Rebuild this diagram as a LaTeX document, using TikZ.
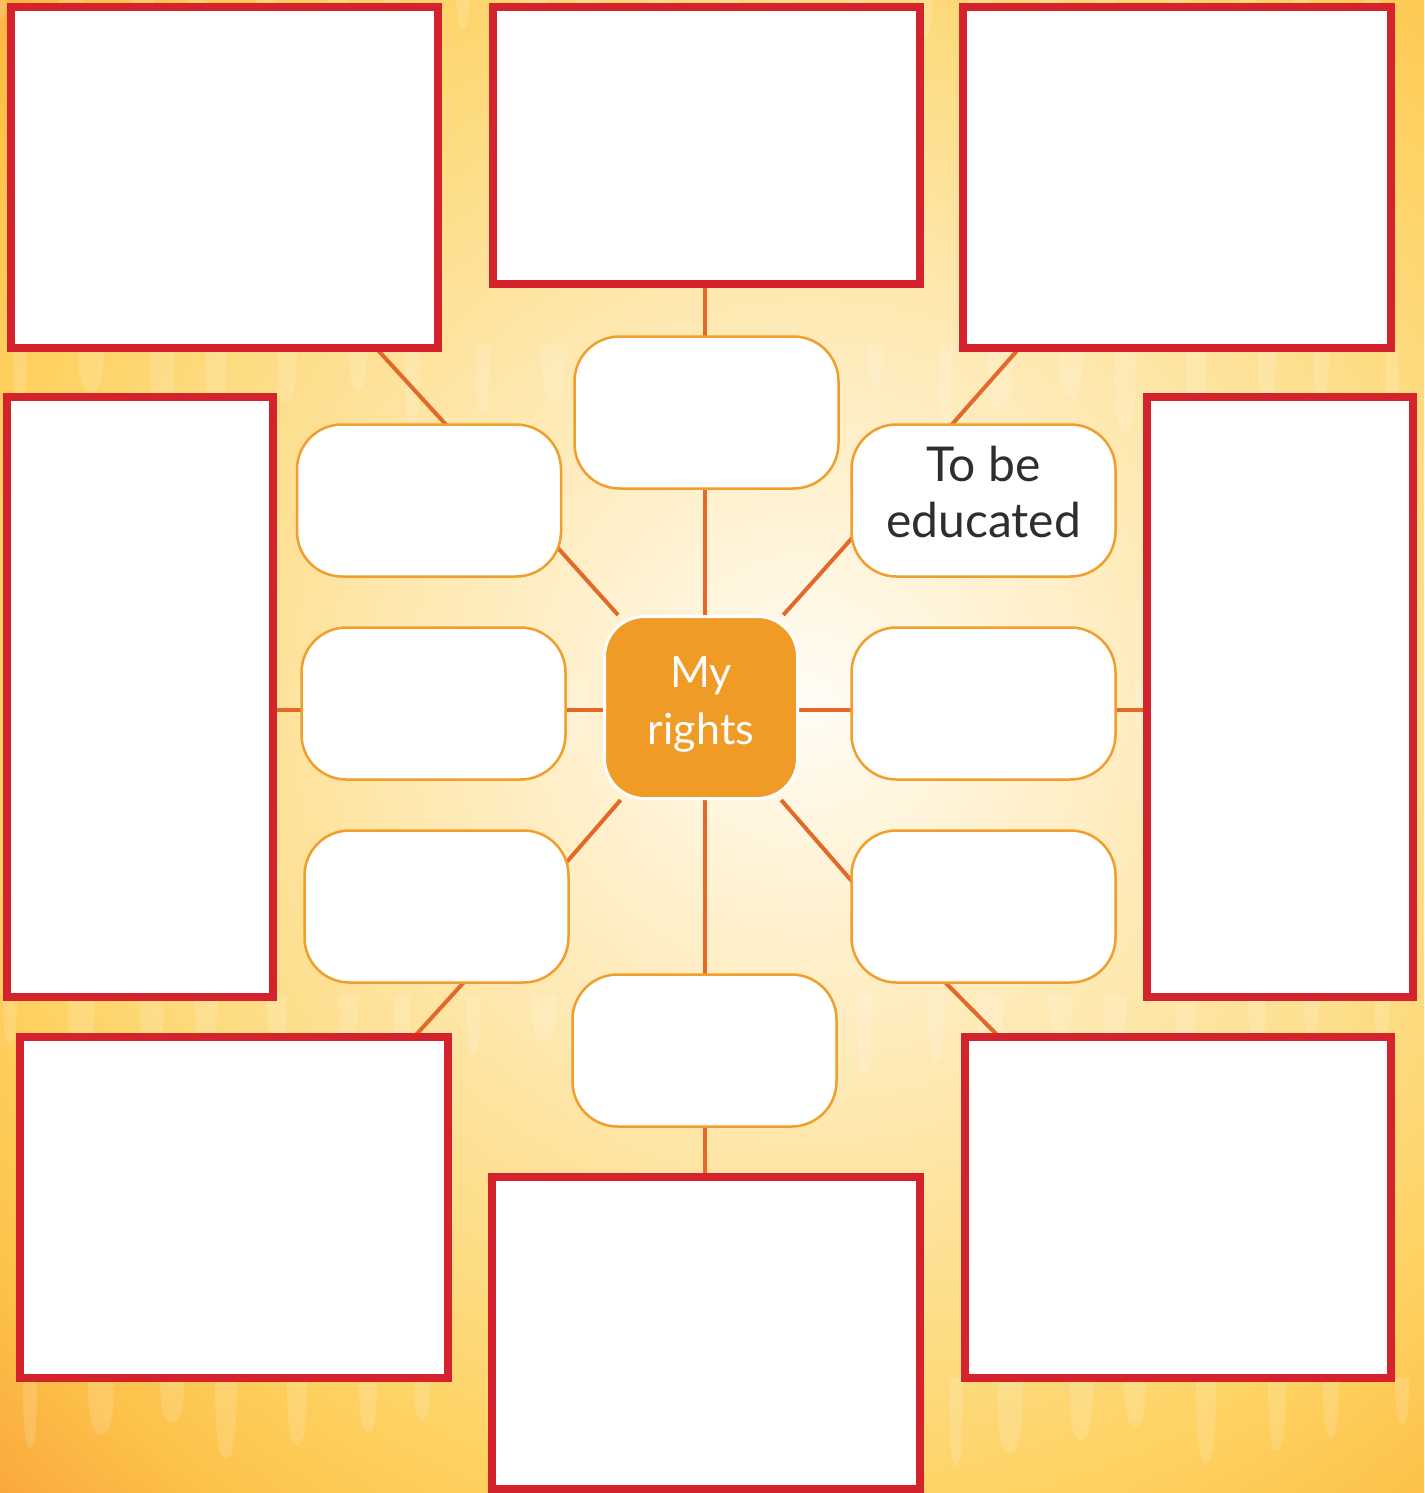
\documentclass[tikz,border=0pt]{standalone}
\usepackage{fontspec}
\setmainfont{Lato}
\usetikzlibrary{calc}
\definecolor{redc}{HTML}{D4232C}
\definecolor{orangeb}{HTML}{F09E2C}
\definecolor{connc}{HTML}{E3692A}
\definecolor{centerc}{HTML}{EF9B25}
\definecolor{textc}{HTML}{2E2E2E}
\definecolor{bgA}{HTML}{FFFCF4}
\definecolor{bgB}{HTML}{FFF3D6}
\definecolor{bgC}{HTML}{FEE7AC}
\definecolor{bgD}{HTML}{FDDB80}
\definecolor{bgE}{HTML}{FED262}
\definecolor{bgF}{HTML}{FDC24A}
\definecolor{bgG}{HTML}{F9A63A}
\pgfdeclarelayer{back}
\pgfdeclarelayer{conn}
\pgfsetlayers{back,conn,main}
\pgfdeclareradialshading{bgshade}{\pgfpoint{0bp}{0bp}}{color(0bp)=(bgA); color(4bp)=(bgB); color(9.5bp)=(bgC); color(14.5bp)=(bgD); color(18bp)=(bgE); color(21.5bp)=(bgF); color(25bp)=(bgG); color(50bp)=(bgG)}
\begin{document}
\begin{tikzpicture}[x=1pt,y=-1pt,
  redb/.style={draw=redc, line width=8pt, fill=white, inner sep=0pt},
  rbox/.style={draw=orangeb, line width=2.5pt, fill=white, rounded corners=45pt,
    minimum width=264pt, minimum height=152pt, inner sep=0pt, align=center,
    text=textc, font=\fontsize{48}{56}\selectfont},
  cbox/.style={draw=white, line width=3pt, fill=centerc, rounded corners=40pt,
    minimum width=193pt, minimum height=182pt, inner sep=0pt, align=center,
    text=white, font=\fontsize{43}{57}\selectfont},
  conn/.style={draw=connc, line width=4pt},
  drip/.style={fill=white, fill opacity=0.15}]
\useasboundingbox (0,0) rectangle (1424,1493);
\begin{pgfonlayer}{back}
  \begin{scope}
    \clip (0,0) rectangle (1424,1493);
    \shade[shading=bgshade] (810,700) circle (1150);
    \foreach \yy/\off in {-20/0, 345/20, 680/40, 995/10, 1378/30} {
      \foreach \i in {0,...,22} {
        \pgfmathsetmacro{\xx}{\off + \i*65 + mod(\i*23,17)}
        \pgfmathsetmacro{\ll}{40 + mod(\i*37+\off,50)}
        \pgfmathsetmacro{\ww}{7 + mod(\i*13,7)}
        \fill[drip] (\xx-\ww,\yy) .. controls (\xx-\ww,\yy+0.6*\ll) and (\xx-0.8*\ww,\yy+\ll) .. (\xx,\yy+\ll)
          .. controls (\xx+0.8*\ww,\yy+\ll) and (\xx+\ww,\yy+0.6*\ll) .. (\xx+\ww,\yy) -- cycle;
      }
    }
  \end{scope}
\end{pgfonlayer}
% red boxes
\node[redb, minimum width=427pt, minimum height=341pt] (TL) at (224.5,177.5) {};
\node[redb, minimum width=427pt, minimum height=277pt] (TM) at (706.5,145.5) {};
\node[redb, minimum width=428pt, minimum height=341pt] (TR) at (1177,177.5) {};
\node[redb, minimum width=266pt, minimum height=600pt] (L) at (140,697) {};
\node[redb, minimum width=266pt, minimum height=600pt] (R) at (1280,697) {};
\node[redb, minimum width=428pt, minimum height=341pt] (BL) at (234,1207.5) {};
\node[redb, minimum width=428pt, minimum height=312pt] (BM) at (706,1333) {};
\node[redb, minimum width=426pt, minimum height=341pt] (BR) at (1178,1207.5) {};
% rounded boxes
\node[rbox] (tc) at (706.5,412.5) {};
\node[rbox] (ul) at (429,500.5) {};
\node[rbox] (ur) at (983.5,500.5) {To be\\educated\rule[-17pt]{0pt}{17pt}};
\node[rbox] (ml) at (433.5,703.5) {};
\node[rbox] (mr) at (983.5,703.5) {};
\node[rbox] (ll) at (436.5,906.5) {};
\node[rbox] (lr) at (983.5,906.5) {};
\node[rbox] (bc) at (704.5,1050.5) {};
% centre
\node[cbox] (cen) at (701,707.5) {My\\rights\rule[-13pt]{0pt}{13pt}};
% connector helper coordinates
\coordinate (hl) at (0,710);
\coordinate (vl) at (705,0);
\coordinate (dUL) at (540,528);
\coordinate (dUR) at (870,518);
\coordinate (dLL) at (545,887);
\coordinate (dLR) at (870,902);
\coordinate (oUL1) at (460,440);
\coordinate (oUL2) at (365,336);
\coordinate (oUR1) at (940,438);
\coordinate (oUR2) at (1030,336);
\coordinate (oLL1) at (475,970);
\coordinate (oLL2) at (405,1047);
\coordinate (oLR1) at (935,972);
\coordinate (oLR2) at (1008,1046);
\begin{pgfonlayer}{conn}
  \draw[conn] (vl |- TM) -- (vl |- tc);
  \draw[conn] (vl |- tc) -- (vl |- cen);
  \draw[conn] (vl |- cen) -- (vl |- bc);
  \draw[conn] (vl |- bc) -- (vl |- BM);
  \draw[conn] (cen |- hl) -- (ml |- hl);
  \draw[conn] (ml |- hl) -- (L |- hl);
  \draw[conn] (cen |- hl) -- (mr |- hl);
  \draw[conn] (mr |- hl) -- (R |- hl);
  \draw[conn] (cen) -- (dUL);
  \draw[conn] (cen) -- (dUR);
  \draw[conn] (cen) -- (dLL);
  \draw[conn] (cen) -- (dLR);
  \draw[conn] (oUL1) -- (oUL2);
  \draw[conn] (oUR1) -- (oUR2);
  \draw[conn] (oLL1) -- (oLL2);
  \draw[conn] (oLR1) -- (oLR2);
\end{pgfonlayer}
\end{tikzpicture}
\end{document}
